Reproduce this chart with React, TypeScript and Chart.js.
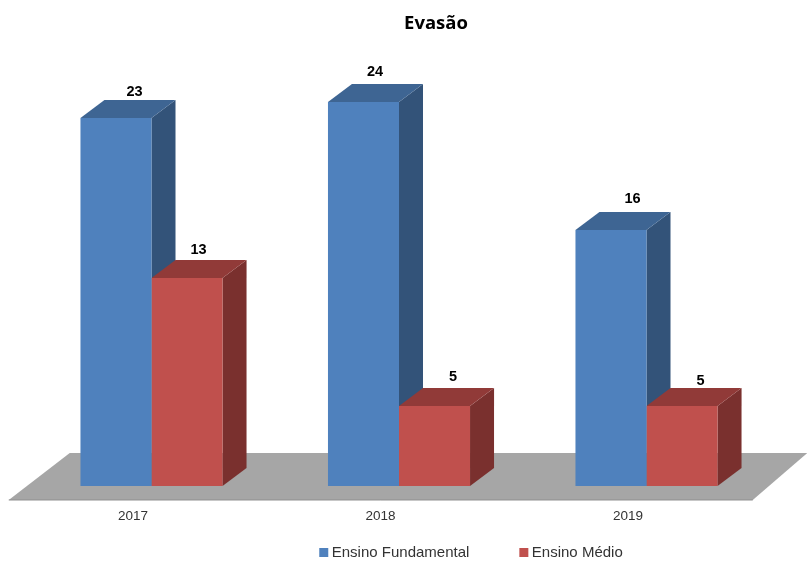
import React, { useEffect, useRef } from "react";
import { Chart, registerables } from "chart.js";

Chart.register(...registerables);

const years = ["2017", "2018", "2019"];
const fundamental = [23, 24, 16];
const medio = [13, 5, 5];
const seriesNames = ["Ensino Fundamental", "Ensino Médio"];
const titleText = "Evasão";

const FRONT = ["#4F81BD", "#C0504D"];
const SIDE = ["#335379", "#7A302E"];
const TOP = ["#3E6593", "#913A38"];
const DEPTH_X = 24;
const DEPTH_Y = 18;
// label placement relative to the top of each bar, per series and category
const LABEL_DX = [[18.5, 11.5, 21.5], [11.5, 18.5, 18.5]];
const LABEL_DY = [[-26, -30, -31], [-28, -29, -25]];
const TITLE_SHIFT = 37;
const LEGEND_SHIFT = 74;

const poly = (ctx: CanvasRenderingContext2D, color: string, pts: number[][]) => {
  ctx.fillStyle = color;
  ctx.beginPath();
  pts.forEach((p, i) => (i ? ctx.lineTo(p[0], p[1]) : ctx.moveTo(p[0], p[1])));
  ctx.closePath();
  ctx.fill();
};

const bars3d = {
  id: "bars3d",
  afterLayout(chart: any) {
    if (chart.titleBlock) {
      chart.titleBlock.left += TITLE_SHIFT;
      chart.titleBlock.right += TITLE_SHIFT;
    }
    if (chart.legend) {
      chart.legend.left += LEGEND_SHIFT;
      chart.legend.right += LEGEND_SHIFT;
    }
    // tick labels are clipped to the scale's box, which overlaps the legend's row here
    chart.scales.x.bottom = chart.height;
  },
  beforeDatasetsDraw(chart: any) {
    const { ctx, chartArea: a } = chart;
    ctx.save();
    const fb = a.bottom + 14;
    const ft = a.bottom - 33;
    poly(ctx, "#A6A6A6", [
      [a.left - 19, fb],
      [a.right - 17.5, fb],
      [a.right + 37, ft],
      [a.left + 42, ft],
    ]);
    ctx.strokeStyle = "#8F8F8F";
    ctx.lineWidth = 1;
    ctx.beginPath();
    ctx.moveTo(a.left - 19, fb);
    ctx.lineTo(a.right - 17.5, fb);
    ctx.stroke();
    years.forEach((_, i) => {
      [0, 1].forEach((d) => {
        const el = chart.getDatasetMeta(d).data[i];
        const l = el.x - el.width / 2;
        const r = el.x + el.width / 2;
        poly(ctx, SIDE[d], [
          [r, el.y],
          [r + DEPTH_X, el.y - DEPTH_Y],
          [r + DEPTH_X, el.base - DEPTH_Y],
          [r, el.base],
        ]);
        poly(ctx, TOP[d], [
          [l, el.y],
          [l + DEPTH_X, el.y - DEPTH_Y],
          [r + DEPTH_X, el.y - DEPTH_Y],
          [r, el.y],
        ]);
      });
    });
    ctx.restore();
  },
  afterDatasetsDraw(chart: any) {
    const { ctx } = chart;
    ctx.save();
    ctx.fillStyle = "#000000";
    ctx.font = "bold 14.5px 'Liberation Sans'";
    ctx.textAlign = "center";
    ctx.textBaseline = "middle";
    [0, 1].forEach((d) => {
      chart.getDatasetMeta(d).data.forEach((el: any, i: number) => {
        const v = chart.data.datasets[d].data[i];
        ctx.fillText(String(v), el.x + LABEL_DX[d][i], el.y + LABEL_DY[d][i]);
      });
    });
    ctx.restore();
  },
};

export default function App() {
  const ref = useRef<HTMLCanvasElement>(null);
  useEffect(() => {
    const chart = new Chart(ref.current!, {
      type: "bar",
      data: {
        labels: years,
        datasets: [
          { label: seriesNames[0], data: fundamental, backgroundColor: FRONT[0] },
          { label: seriesNames[1], data: medio, backgroundColor: FRONT[1] },
        ],
      },
      options: {
        responsive: false,
        animation: false,
        layout: { padding: { left: 27.75, right: 36.75, top: 0, bottom: -9 } },
        datasets: { bar: { categoryPercentage: 0.574, barPercentage: 1 } },
        scales: {
          x: {
            grid: { display: false },
            border: { display: false },
            afterFit: (s: any) => {
              s.height = 5;
            },
            ticks: {
              color: "#333333",
              font: { family: "'Liberation Sans'", size: 13.5 },
              labelOffset: -18.5,
              padding: 14,
              maxRotation: 0,
              autoSkip: false,
            },
          },
          y: { display: false, min: 0, max: 27 },
        },
        plugins: {
          tooltip: { enabled: false },
          title: {
            display: true,
            text: titleText,
            color: "#000000",
            font: { family: "'Open Sans'", size: 18.5, weight: "bold" },
            padding: { top: 13, bottom: 18.8 },
          },
          legend: {
            position: "bottom",
            labels: {
              usePointStyle: true,
              pointStyle: "rect",
              boxWidth: 1,
              boxHeight: 9,
              padding: 54,
              color: "#333333",
              font: { family: "'Liberation Sans'", size: 15 },
            },
          },
        },
      } as any,
      plugins: [bars3d],
    });
    return () => chart.destroy();
  }, []);
  return (
    <canvas
      ref={ref}
      width={807}
      height={561}
      style={{ position: "absolute", left: 0, top: 0, display: "block", background: "#fff" }}
    />
  );
}
